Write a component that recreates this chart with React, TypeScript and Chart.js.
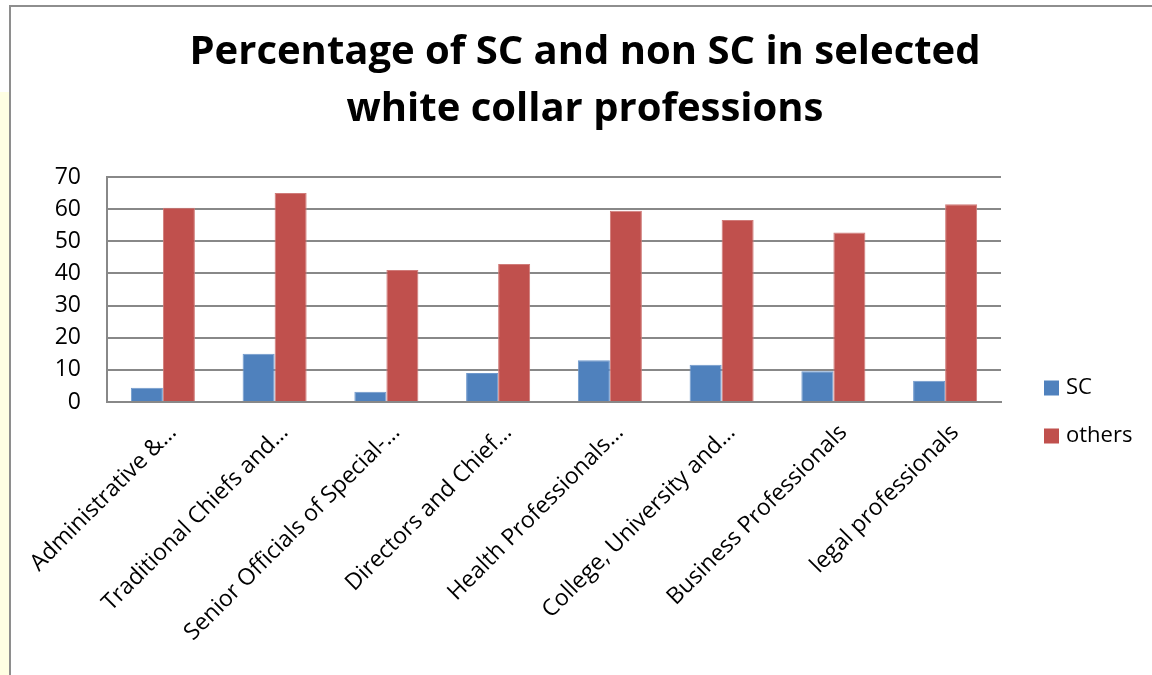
import { useEffect, useRef } from 'react';
import { Chart, registerables } from 'chart.js';

Chart.register(...registerables);

const categories = [
  'Administrative &…',
  'Traditional Chiefs and…',
  'Senior Officials of Special-…',
  'Directors and Chief…',
  'Health Professionals…',
  'College, University and…',
  'Business Professionals',
  'legal professionals',
];
const scValues = [4.4, 15.0, 3.2, 9.0, 13.0, 11.6, 9.6, 6.6];
const otherValues = [60.4, 65.0, 41.1, 42.9, 59.5, 56.6, 52.7, 61.5];
const seriesNames = ['SC', 'others'];
const seriesColors = ['#4F81BD', '#C0504D'];
const seriesBorders = ['#6f98cc', '#d07b79'];
const yMin = 0;
const yMax = 70;
const yStep = 10;
const titleLines = ['Percentage of SC and non SC in selected', 'white collar professions'];

const FONT = '"Open Sans", Lato, sans-serif';
const GRID = '#888888';

const sideLegend = {
  id: 'sideLegend',
  afterDraw(chart: any) {
    const { ctx, chartArea } = chart;
    ctx.save();
    chart.data.datasets.forEach((ds: any, i: number) => {
      const cy = chartArea.bottom - 14 + i * 48;
      const x = chartArea.right + 43;
      ctx.fillStyle = ds.backgroundColor;
      ctx.fillRect(x, cy - 7.5, 15, 15);
      ctx.fillStyle = '#000';
      ctx.font = `22px ${FONT}`;
      ctx.textBaseline = 'middle';
      ctx.textAlign = 'left';
      ctx.fillText(ds.label, x + 22, cy);
    });
    ctx.restore();
  },
};

export default function App() {
  const ref = useRef<HTMLCanvasElement | null>(null);

  useEffect(() => {
    let chart: Chart | null = null;
    let cancelled = false;
    const make = () => {
      if (cancelled || !ref.current) return;
      chart = new Chart(ref.current, {
        type: 'bar',
        data: {
          labels: categories,
          datasets: [
            {
              label: seriesNames[0],
              data: scValues,
              backgroundColor: seriesColors[0],
              borderColor: seriesBorders[0],
              borderWidth: 1,
              barPercentage: 1,
              categoryPercentage: 0.573,
            },
            {
              label: seriesNames[1],
              data: otherValues,
              backgroundColor: seriesColors[1],
              borderColor: seriesBorders[1],
              borderWidth: 1,
              barPercentage: 1,
              categoryPercentage: 0.573,
            },
          ],
        },
        options: {
          animation: false,
          responsive: false,
          maintainAspectRatio: false,
          layout: { padding: 0 },
          plugins: {
            legend: { display: false },
            tooltip: { enabled: false },
            title: {
              display: true,
              text: titleLines,
              color: '#000',
              font: { family: FONT, size: 40, weight: 'bold', lineHeight: 1.425 },
              padding: { top: 17, bottom: 39 },
            },
          },
          scales: {
            x: {
              type: 'category',
              grid: { display: false, drawTicks: false },
              border: { display: true, color: GRID, width: 2 },
              ticks: {
                color: '#000',
                font: { family: FONT, size: 23 },
                maxRotation: 45,
                minRotation: 45,
                autoSkip: false,
                padding: 17,
                labelOffset: 10,
              },
              afterFit(s: any) {
                s.height = 273;
                s.paddingLeft = 0;
                s.paddingRight = 0;
              },
            },
            y: {
              type: 'linear',
              min: yMin,
              max: yMax,
              grid: { color: GRID, lineWidth: 2, drawTicks: false },
              border: { display: true, color: GRID, width: 2 },
              ticks: {
                stepSize: yStep,
                color: '#000',
                font: { family: FONT, size: 23 },
                padding: 26,
              },
              afterFit(s: any) {
                s.width = 89;
              },
            },
            yRight: {
              type: 'linear',
              position: 'right',
              display: true,
              grid: { display: false, drawTicks: false },
              border: { display: false },
              ticks: { display: false },
              afterFit(s: any) {
                s.width = 151;
              },
            },
          },
        },
        plugins: [sideLegend],
      });
    };
    const fonts = (document as any).fonts;
    if (fonts && fonts.load) {
      Promise.all([
        fonts.load(`23px "Open Sans"`),
        fonts.load(`bold 40px "Open Sans"`),
      ]).then(make, make);
    } else {
      make();
    }
    return () => {
      cancelled = true;
      if (chart) chart.destroy();
    };
  }, []);

  return (
    <div style={{ position: 'absolute', left: 0, top: 0, width: 1152, height: 675, overflow: 'hidden', background: '#fff' }}>
      <div style={{ position: 'absolute', left: 0, top: 92, width: 9, height: 600, background: '#FFFFE3' }} />
      <div
        style={{
          position: 'absolute',
          left: 9,
          top: 5,
          width: 1200,
          height: 720,
          border: '2px solid #8e8e8e',
          background: '#fff',
        }}
      />
      <canvas
        ref={ref}
        width={1134}
        height={668}
        style={{ position: 'absolute', left: 18, top: 7, width: 1134, height: 668 }}
      />
    </div>
  );
}
